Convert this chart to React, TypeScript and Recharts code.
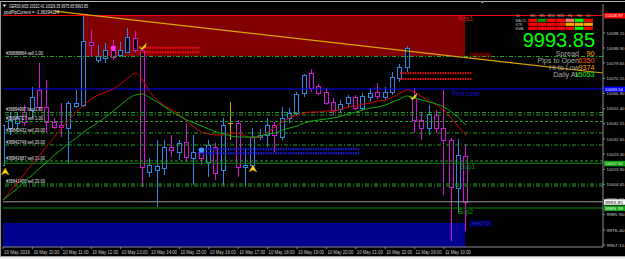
import React from "react";
import {
  ComposedChart,
  Bar,
  Line,
  XAxis,
  YAxis,
  ReferenceLine,
  ReferenceArea,
  ReferenceDot,
} from "recharts";

// GER30 M15, 10 May 09:00 -> 11 May 10:45
const timeTicks = [0, 4, 8, 12, 16, 20, 24, 28, 32, 36, 40, 44, 48, 52, 56, 60];
const timeLabels = [
  "10 May 2016", "10 May 10:00", "10 May 11:00", "10 May 12:00", "10 May 13:00", "10 May 14:00",
  "10 May 15:00", "10 May 16:00", "10 May 17:00", "10 May 18:00", "10 May 19:00", "10 May 20:00",
  "10 May 21:00", "10 May 22:00", "11 May 09:00", "11 May 10:00",
];
const priceTicks = [
  10098.15, 10088.9, 10079.65, 10070.15, 10060.9, 10051.4, 10042.15, 10032.65,
  10023.4, 10013.9, 10004.65, 9995.15, 9985.9, 9976.4, 9967.15,
];

const opens = [
  10016.57, 10039.44, 10042.53, 10049.33, 10050.56, 10062.92, 10052.42, 10043.15, 10041.29, 10039.44,
  10053.04, 10053.65, 10092.59, 10081.46, 10082.7, 10087.64, 10084.55, 10086.41, 10095.06, 10087.64,
  10012.25, 10013.49, 10014.72, 10027.7, 10024.61, 10030.79, 10020.9, 10024.61, 10018.43, 10027.7,
  10013.49, 10042.53, 10042.53, 10015.34, 10016.57, 10033.88, 10035.11, 10041.29, 10033.88, 10045.62,
  10048.71, 10061.07, 10073.43, 10065.39, 10061.69, 10055.51, 10051.18, 10054.89, 10058.6, 10051.8,
  10058.6, 10061.69, 10058.6, 10061.69, 10070.34, 10077.14, 10057.98, 10044.38, 10039.44, 10047.47,
  10039.44, 10032.02, 10002.36, 10022.41,
];
const highs = [
  10045.62, 10049.33, 10049.33, 10053.65, 10064.78, 10079.61, 10069.1, 10045.62, 10054.89, 10056.13,
  10062.92, 10109.27, 10100.0, 10090.73, 10091.97, 10093.83, 10092.59, 10101.24, 10099.39, 10089.5,
  10020.9, 10032.02, 10032.02, 10035.11, 10032.02, 10042.53, 10035.11, 10027.08, 10032.02, 10030.17,
  10045.62, 10055.51, 10044.38, 10027.08, 10039.44, 10038.82, 10045.62, 10043.15, 10052.42, 10051.8,
  10061.69, 10072.81, 10075.9, 10066.63, 10064.16, 10057.98, 10056.74, 10059.83, 10059.83, 10061.07,
  10064.16, 10067.25, 10064.78, 10074.05, 10078.99, 10090.12, 10064.16, 10049.33, 10053.65, 10050.56,
  10062.92, 10033.26, 10032.64, 10029.35,
];
const lows = [
  10010.39, 10035.11, 10038.2, 10040.68, 10045.62, 10050.56, 10036.35, 10038.82, 10033.88, 10017.81,
  10051.8, 10052.42, 10083.32, 10079.61, 10079.61, 10081.46, 10083.32, 10085.79, 10085.79, 10002.98,
  10009.16, 9990.61, 10010.39, 10021.52, 10019.66, 10018.43, 10004.21, 10016.57, 10009.16, 10007.3,
  10004.21, 10032.02, 10009.16, 10002.98, 10014.72, 10032.02, 10027.7, 10024.61, 10032.02, 10042.53,
  10047.47, 10058.6, 10061.69, 10059.83, 10053.65, 10047.47, 10048.71, 10051.8, 10050.56, 10050.56,
  10055.51, 10057.36, 10056.74, 10059.83, 10067.87, 10074.05, 10036.35, 10032.02, 10035.11, 10036.35,
  9998.03, 9969.49, 9986.91, 9975.65,
];
const closes = [
  10041.29, 10044.38, 10045.62, 10043.15, 10058.6, 10052.42, 10043.15, 10040.06, 10040.06, 10054.89,
  10054.89, 10093.21, 10090.73, 10083.93, 10087.64, 10083.32, 10087.64, 10095.68, 10087.64, 10015.34,
  10016.57, 10015.96, 10027.7, 10025.84, 10030.17, 10021.52, 10024.61, 10020.9, 10028.93, 10011.63,
  10041.29, 10042.53, 10015.34, 10016.57, 10033.88, 10035.11, 10041.29, 10035.11, 10045.62, 10048.71,
  10060.45, 10072.19, 10064.16, 10061.07, 10054.89, 10050.56, 10054.27, 10058.6, 10051.8, 10059.22,
  10061.07, 10059.22, 10061.69, 10070.96, 10077.14, 10088.88, 10044.38, 10039.44, 10048.09, 10039.44,
  10032.02, 10002.98, 10022.75, 9993.85,
];
const maRed = [
  9994.94, 10000.5, 10006.07, 10011.63, 10017.19, 10022.75, 10028.32, 10033.88, 10039.44, 10044.38,
  10049.33, 10053.65, 10057.36, 10059.83, 10061.69, 10063.54, 10066.63, 10070.34, 10073.43, 10069.1,
  10061.69, 10056.74, 10053.04, 10050.56, 10047.47, 10043.77, 10040.06, 10036.97, 10035.73, 10035.11,
  10035.11, 10036.35, 10036.35, 10034.5, 10033.26, 10033.88, 10036.97, 10040.06, 10043.15, 10045.62,
  10047.47, 10048.71, 10049.33, 10049.33, 10049.95, 10049.95, 10051.18, 10052.42, 10053.04, 10054.27,
  10054.89, 10056.13, 10056.74, 10058.6, 10061.07, 10062.92, 10061.69, 10058.6, 10056.13, 10053.65,
  10050.56, 10045.62, 10040.06, 10035.11,
];
const maGreen = [
  9994.94, 9998.65, 10002.36, 10006.69, 10010.39, 10014.72, 10018.43, 10022.75, 10026.46, 10030.17,
  10033.26, 10036.97, 10040.06, 10043.15, 10046.24, 10049.95, 10053.65, 10057.36, 10059.83, 10060.45,
  10057.98, 10055.51, 10052.42, 10049.33, 10046.86, 10044.38, 10042.53, 10040.68, 10038.82, 10036.97,
  10035.73, 10034.5, 10033.88, 10033.88, 10033.88, 10034.5, 10035.73, 10036.35, 10038.2, 10039.44,
  10040.68, 10042.53, 10043.77, 10044.38, 10045.0, 10045.62, 10046.86, 10048.09, 10049.33, 10050.56,
  10051.8, 10052.42, 10053.65, 10055.51, 10057.36, 10059.22, 10057.98, 10056.74, 10055.51, 10054.27,
  10052.42, 10049.33, 10045.62, 10041.29,
];

// levels
const res1 = 10108.97;
const pivot = 10063.54;
const sup1 = 10017.62;
const sup2 = 9989.99;
const bid = 9993.85;
const orderLevels = [10083.63, 10049.02, 10047.47, 10043.46, 10036.35, 10028.93, 10019.05, 10004.83, 10003.6];
const orderStyles = ["dd", "dd", "dd", "d", "dd", "dd", "d", "dd", "dd"];
const orderTags = [
  "#36888864 sell 1.00", "#36894997 buy 1.00", "", "#36887727 sell 1.00", "#36842432 sell 20.00",
  "#36842748 sell 20.00", "#36841687 sell 20.00", "#36841455 sell 20.00", "",
];

// zones (bar index / price)
const resZone = [10.9, 62.86, 10083.93, 10108.66];
const supZone = [0, 62.86, 9965.9, 9980.72];
const trend = [7, 10111.62, 81.63, 10073.43];
const redZigA = [18.6, 26.8, 10089.07, 10086.22];
const redZigB = [54.0, 63.8, 10073.24, 10069.72];
const blueZig = [26.5, 48.6, 10026.27, 10023.8];

// arrows / dots
const markI = [0.3, 19, 34, 55.8, 15, 27];
const markP = [10012.25, 10090.1, 10014.1, 10059.22, 10088.88, 10025.84];
const markKind = ["buy", "check", "buy", "check", "dotM", "dotB"];

// dashboard
const tfHeaders = ["M1", "M5", "M15", "M30", "H1", "H4", "D1"];
const panelNames = ["MACD", "STR", "EMA"];
const panelCells = [
  ["#ff0000", "#009900", "#ff0000", "#ff0000", "#ff8070", "#00ff00", "#ff0000"],
  ["#ff0000", "#ff0000", "#ff0000", "#ff0000", "#ffa500", "#ffa500", "#ffa500"],
  ["#ff0000", "#ff0000", "#ff0000", "#ff0000", "#ff0000", "#00ff00", "#ff0000"],
];
const infoLabels = ["Spread", "Pips to Open", "Hi to Low", "Daily Av"];
const infoValues = ["90", "6350", "9374", "15053"];
const infoColors = ["#ffa500", "#ff5a1a", "#ffa000", "#22ee22"];

const rows = opens.map((o, i) => ({
  i,
  o,
  h: highs[i],
  l: lows[i],
  c: closes[i],
  red: maRed[i],
  green: maGreen[i],
}));

const FONT = "'Liberation Sans', Arial, sans-serif";
const BULL = "#2f86e6";
const BEAR = "#d412d4";
const DOJI = "#e0a800";
const AXIS = "#8c8c8c";
const ORDER_GREEN = "#23a023";

function Candle(props: any) {
  const { x, y, width, height, payload } = props;
  if (!payload || height == null || isNaN(y)) return null;
  const { o, h, l, c } = payload;
  const cx = Math.floor(x + width / 2) + 0.5;
  const k = h === l ? 0 : height / (h - l);
  const py = (p: number) => y + (h - p) * k;
  const col = c > o ? BULL : c < o ? BEAR : DOJI;
  const top = Math.round(py(Math.max(o, c))) + 0.5;
  const bot = Math.round(py(Math.min(o, c))) + 0.5;
  if (c === o) {
    return (
      <g>
        <line x1={cx} x2={cx} y1={y} y2={y + height} stroke={col} />
        <line x1={cx - 2.5} x2={cx + 2.5} y1={top} y2={top} stroke={col} />
      </g>
    );
  }
  return (
    <g>
      <line x1={cx} x2={cx} y1={y} y2={top} stroke={col} />
      <line x1={cx} x2={cx} y1={bot} y2={y + height} stroke={col} />
      <rect x={cx - 2} y={top} width={4} height={Math.max(bot - top, 1)} fill="#000" stroke={col} />
    </g>
  );
}

const TimeTick = (props: any) => {
  const { x, y, index } = props;
  const label = timeLabels[index] ?? "";
  return (
    <text x={x + 1} y={y + 2.5} fontSize={5} fill="#c8c8c8" textLength={26} lengthAdjust="spacingAndGlyphs">
      {label}
    </text>
  );
};

const PriceTick = (props: any) => {
  const { x, y, payload } = props;
  return (
    <text x={x - 0.5} y={y + 1.8} fontSize={4.3} fill="#c8c8c8" textLength={18} lengthAdjust="spacingAndGlyphs">
      {payload.value.toFixed(2)}
    </text>
  );
};

const axisBox = (text: string, bg: string, fg: string) => (p: any) => {
  const vb = p.viewBox;
  if (!vb) return null;
  const ax = vb.x + vb.width;
  return (
    <g>
      <rect x={ax + 1} y={vb.y - 2.5} width={21} height={5.5} fill={bg} />
      <text x={ax + 2} y={vb.y + 1.8} fontSize={4.3} fill={fg} textLength={18} lengthAdjust="spacingAndGlyphs">
        {text}
      </text>
    </g>
  );
};

const lineTag = (text: string, dx: number, dy: number, color: string, size: number, len?: number) => (p: any) => {
  const vb = p.viewBox;
  if (!vb || !text) return null;
  return (
    <text
      x={vb.x + dx}
      y={vb.y + dy}
      fontSize={size}
      fill={color}
      textLength={len}
      lengthAdjust={len ? "spacingAndGlyphs" : undefined}
    >
      {text}
    </text>
  );
};

const zoneTag = (text: string, bg: string, border: string, fg: string, atBottom: boolean) => (p: any) => {
  const vb = p.viewBox;
  if (!vb) return null;
  const x = vb.x + vb.width + 5;
  const y = atBottom ? vb.y + vb.height - 3 : vb.y - 2;
  return (
    <g>
      <rect x={x} y={y} width={21} height={5} fill={bg} stroke={border} strokeWidth={0.6} />
      <text x={x + 1.5} y={y + 4} fontSize={4.3} fill={fg} textLength={18} lengthAdjust="spacingAndGlyphs">
        {text}
      </text>
    </g>
  );
};

const Marker = (kind: string) => (p: any) => {
  const { cx, cy } = p;
  if (cx == null) return null;
  if (kind === "buy") {
    return (
      <polygon
        points={`${cx},${cy - 4} ${cx + 4},${cy + 3} ${cx},${cy + 1} ${cx - 4},${cy + 3}`}
        fill="#ffe000"
        stroke="#a08000"
        strokeWidth={0.5}
      />
    );
  }
  if (kind === "check") {
    return (
      <polygon
        points={`${cx - 4},${cy} ${cx - 1},${cy + 2} ${cx + 4},${cy - 3} ${cx + 3},${cy + 1} ${cx - 1},${cy + 4}`}
        fill="#ffe000"
        stroke="#a08000"
        strokeWidth={0.5}
      />
    );
  }
  return <circle cx={cx} cy={cy} r={2.6} fill={kind === "dotM" ? "#ff33ff" : "#3aa0ff"} />;
};

export default function App() {
  return (
    <div style={{ position: "relative", width: 625, height: 259, background: "#ededed", overflow: "hidden", fontFamily: FONT }}>
      <style>{"body{margin:0}"}</style>
      <div style={{ position: "absolute", left: 0, top: 0, width: 625, height: 256, background: "#000" }}>
        <ComposedChart width={625} height={256} data={rows} margin={{ top: 4, right: 0, bottom: 0, left: 3 }} style={{ fontFamily: FONT }}>
          <ReferenceArea
            x1={resZone[0]}
            x2={resZone[1]}
            y1={resZone[2]}
            y2={resZone[3]}
            fill="#800000"
            fillOpacity={1}
            stroke="none"
            label={zoneTag("10083.93", "#300000", "#900000", "#b01010", true)}
          />
          <ReferenceArea
            x1={supZone[0]}
            x2={supZone[1]}
            y1={supZone[2]}
            y2={supZone[3]}
            fill="#000090"
            fillOpacity={1}
            stroke="none"
            label={zoneTag("9980.72", "#000040", "#0000c0", "#2030e0", false)}
          />
          <XAxis
            type="number"
            dataKey="i"
            domain={[0, 81.63]}
            ticks={timeTicks}
            interval={0}
            height={9}
            tick={<TimeTick />}
            tickSize={2}
            tickLine={{ stroke: AXIS }}
            axisLine={{ stroke: AXIS }}
            allowDataOverflow
          />
          <YAxis
            orientation="right"
            type="number"
            domain={[9965.9, 10116.07]}
            ticks={priceTicks}
            interval={0}
            width={22}
            tick={<PriceTick />}
            tickSize={2}
            tickLine={{ stroke: AXIS }}
            axisLine={{ stroke: AXIS }}
            allowDataOverflow
          />
          <ReferenceLine
            y={res1}
            stroke="#ff0000"
            strokeWidth={1}
            label={(p: any) => (
              <g>
                {axisBox("10108.97", "#ff0000", "#ffffff")(p)}
                {lineTag("Res1", 455, 6, "#e01010", 6.5)(p)}
              </g>
            )}
          />
          {orderLevels.map((lv, k) => (
            <ReferenceLine
              key={"o" + k}
              y={lv}
              stroke={ORDER_GREEN}
              strokeDasharray={orderStyles[k] === "dd" ? "4 2 1 2" : "3 2"}
              label={lineTag(orderTags[k], 3, -1, "#e4e4e4", 5, orderTags[k].includes("20.00") ? 39 : 37)}
            />
          ))}
          <ReferenceLine
            y={pivot}
            stroke="#0000ff"
            label={(p: any) => (
              <g>
                {axisBox("10063.54", "#0000ff", "#ffffff")(p)}
                {lineTag("Pivot Level", 449, 7, "#1414d8", 6.5, 28)(p)}
              </g>
            )}
          />
          <ReferenceLine
            y={sup1}
            stroke="#0c8a0c"
            label={(p: any) => (
              <g>
                {axisBox("10017.62", "#10a010", "#e8ffe8")(p)}
                {lineTag("Sup1", 457, 6, "#188818", 6.5)(p)}
              </g>
            )}
          />
          <ReferenceLine y={bid} stroke="#9a9a9a" label={axisBox("9993.85", "#ffffff", "#000000")} />
          <ReferenceLine
            y={sup2}
            stroke="#0c8a0c"
            label={(p: any) => (
              <g>
                {axisBox("9989.99", "#10a010", "#e8ffe8")(p)}
                {lineTag("Sup2", 455, 6, "#1a991a", 6.5)(p)}
              </g>
            )}
          />
          <ReferenceLine
            segment={[{ x: trend[0], y: trend[1] }, { x: trend[2], y: trend[3] }]}
            stroke="#d8a400"
            strokeWidth={1.2}
          />
          {[redZigA[2], redZigA[3]].map((lv, k) => (
            <ReferenceLine
              key={"ra" + k}
              segment={[{ x: redZigA[0], y: lv }, { x: redZigA[1], y: lv }]}
              stroke="#ff1010"
              strokeWidth={2}
              strokeDasharray="1.5 1"
            />
          ))}
          {[redZigB[2], redZigB[3]].map((lv, k) => (
            <ReferenceLine
              key={"rb" + k}
              segment={[{ x: redZigB[0], y: lv }, { x: redZigB[1], y: lv }]}
              stroke="#ff1010"
              strokeWidth={2}
              strokeDasharray="1.5 1"
            />
          ))}
          {[blueZig[2], blueZig[3]].map((lv, k) => (
            <ReferenceLine
              key={"bz" + k}
              segment={[{ x: blueZig[0], y: lv }, { x: blueZig[1], y: lv }]}
              stroke="#1a1aff"
              strokeWidth={2}
              strokeDasharray="1.5 1"
            />
          ))}
          <Line dataKey="red" type="monotone" stroke="#d00000" strokeWidth={1} dot={false} isAnimationActive={false} />
          <Line dataKey="green" type="monotone" stroke="#10b010" strokeWidth={1} dot={false} isAnimationActive={false} />
          <Bar dataKey={(d: any) => [d.l, d.h]} barSize={5} shape={(p: any) => <Candle {...p} />} isAnimationActive={false} />
          {markI.map((mi, k) => (
            <ReferenceDot key={"m" + k} x={mi} y={markP[k]} r={3} shape={Marker(markKind[k])} />
          ))}
        </ComposedChart>
      </div>
      <svg width={625} height={259} style={{ position: "absolute", left: 0, top: 0, pointerEvents: "none" }}>
        <line x1={0} x2={625} y1={1.5} y2={1.5} stroke="#b4b4b4" />
        <line x1={0.5} x2={0.5} y1={1} y2={256} stroke="#9a9a9a" />
        <line x1={0} x2={625} y1={256.5} y2={256.5} stroke="#a0a0a0" />
        <polygon points="480,1 485,1 482.5,3.5" fill="#a0a0a0" />
        <polygon points="2.5,4.5 6.5,4.5 4.5,7" fill="#e0e0e0" />
        <text x={9} y={7.5} fontSize={5} fill="#e8e8e8" textLength={79} lengthAdjust="spacingAndGlyphs">
          GER30,M15  10022.41 10029.35 9975.65 9993.85
        </text>
        <text x={4} y={14} fontSize={5} fill="#e8e8e8" textLength={55} lengthAdjust="spacingAndGlyphs">
          ppdPipCurrent = -1.36394124
        </text>
        <text x={515.5} y={17} fontSize={3.6} fill="#b8b8b8">Ch</text>
        {tfHeaders.map((t, k) => (
          <text key={t} x={533 + k * 9.3} y={17} fontSize={3.6} fill="#b8b8b8" textAnchor="middle">
            {t}
          </text>
        ))}
        {panelNames.map((n, r) => (
          <g key={n}>
            <text x={515.5} y={21.5 + r * 4} fontSize={3.6} fill="#b8b8b8">
              {n}
            </text>
            {panelCells[r].map((col, k) => (
              <rect key={k} x={528.3 + k * 9.3} y={18.7 + r * 4} width={8.8} height={3.2} fill={col} />
            ))}
          </g>
        ))}
        <text x={595} y={47} fontSize={20} fill="#00ff00" textAnchor="end">
          9993.85
        </text>
        {infoLabels.map((lab, k) => (
          <g key={lab}>
            <text x={579} y={55.5 + k * 7} fontSize={7.2} fill="#a8a8a8" textAnchor="end">
              {lab}
            </text>
            <text x={594.5} y={55.5 + k * 7} fontSize={7.2} fill={infoColors[k]} textAnchor="end">
              {infoValues[k]}
            </text>
          </g>
        ))}
      </svg>
    </div>
  );
}
